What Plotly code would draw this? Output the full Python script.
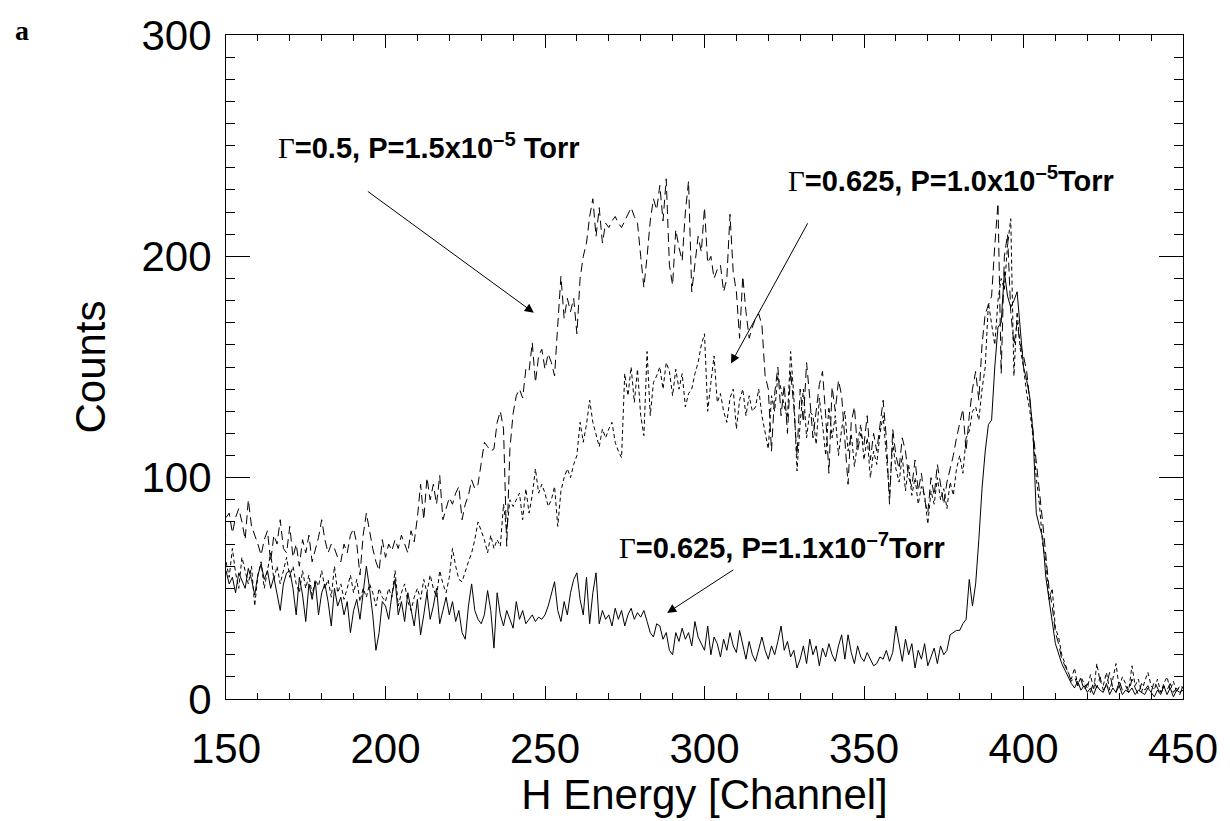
import plotly.graph_objects as go

start_channel = 150

solid_low_p = [
    58, 52, 55, 48, 57, 53, 50, 59, 54, 47,
    56, 61, 54, 58, 50, 55, 48, 40, 52, 57,
    58, 50, 38, 55, 47, 35, 52, 45, 53, 38,
    48, 52, 44, 33, 50, 42, 46, 38, 44, 30,
    40, 45, 36, 48, 60, 50, 38, 22, 30, 44,
    42, 36, 47, 54, 38, 44, 35, 48, 40, 33,
    45, 29, 38, 48, 36, 42, 50, 34, 40, 46,
    38, 44, 35, 40, 30, 27, 42, 52, 40, 36,
    34, 38, 49, 40, 23, 48, 38, 33, 40, 36,
    32, 44, 36, 40, 34, 36, 38, 35, 37, 36,
    38, 42, 47, 53, 40, 35, 44, 38, 48, 54,
    57, 45, 38, 55, 34, 48, 57, 34, 40, 36,
    38, 33, 41, 36, 40, 33, 38, 41, 36, 39,
    37, 40, 35, 30, 28, 34, 33, 27, 30, 22,
    20, 30, 26, 32, 27, 30, 24, 35, 28, 25,
    22, 33, 20, 28, 25, 19, 27, 22, 30, 24,
    21, 31, 24, 18, 26, 20, 17, 23, 28, 22,
    18, 24, 20, 26, 33, 22, 26, 19, 22, 14,
    18, 24, 16, 27, 20, 24, 15, 23, 19, 25,
    20, 17, 24, 29, 18, 29, 21, 16, 24, 19,
    17, 21, 18, 15, 16, 19, 18, 22, 17, 21,
    33, 24, 17, 27, 20, 25, 14, 22, 18, 25,
    15, 19, 23, 16, 24, 20, 22, 29, 30, 31,
    31, 34, 36, 54, 42, 52, 72, 95, 112, 124,
    126, 150, 168, 170, 193, 182, 177, 180, 184, 165,
    150, 144, 136, 120, 84, 78, 73, 55, 44, 35,
    25, 20, 16, 13, 10, 7, 5, 8, 4, 6,
    3, 5, 2, 6, 4, 3, 7, 2, 5, 3,
    6, 2, 4, 3, 5, 2, 4, 3, 2, 5,
    3, 1, 4, 2, 6, 2, 5, 1, 4, 3,
    4,
]

long_dash_g05 = [
    82, 84, 75, 82, 86, 80, 72, 90, 78, 74,
    70, 65, 72, 76, 62, 74, 70, 81, 68, 66,
    78, 64, 70, 60, 72, 66, 74, 62, 68, 73,
    81, 72, 66, 70, 68, 64, 62, 70, 66, 74,
    77, 70, 56, 74, 84, 76, 68, 62, 58, 72,
    64, 70, 67, 72, 68, 74, 70, 66, 76, 71,
    82, 97, 81, 100, 90, 97, 88, 101, 81, 86,
    91, 88, 93, 96, 81, 88, 92, 99, 95, 97,
    106, 116, 114, 112, 113, 125, 130, 122, 69, 113,
    129, 137, 140, 136, 149, 148, 161, 143, 155, 158,
    149, 156, 152, 146, 169, 191, 172, 181, 175, 181,
    165, 190, 200, 206, 218, 226, 209, 222, 206, 215,
    213, 216, 218, 215, 213, 216, 219, 222, 218, 215,
    200, 186, 200, 216, 226, 221, 232, 216, 235, 196,
    187, 212, 204, 198, 220, 234, 184, 196, 209, 202,
    222, 197, 200, 190, 194, 196, 184, 190, 219, 193,
    184, 163, 191, 175, 163, 168, 172, 174, 169, 146,
    140, 112, 138, 150, 128, 142, 120, 148, 132, 110,
    140, 125, 152, 136, 118, 130, 142, 148, 128, 102,
    141, 130, 144, 137, 118, 97, 125, 132, 112, 120,
    115, 128, 108, 120, 112, 125, 135, 118, 88, 122,
    110, 104, 118, 112, 100, 96, 108, 94, 102, 90,
    84, 100, 92, 106, 96, 88, 98, 104, 110, 118,
    124, 131, 112, 128, 140, 148, 135, 160, 174, 178,
    182, 205, 224, 147, 200, 210, 175, 160, 170, 160,
    155, 148, 135, 120, 108, 95, 80, 65, 50, 42,
    30, 25, 18, 15, 12, 8, 10, 6, 9, 4,
    7, 3, 8, 5, 10, 4, 6, 12, 5, 3,
    8, 4, 6, 3, 9, 5, 2, 7, 4, 6,
    3, 8, 5, 2, 6, 4, 7, 3, 5, 2,
    6,
]

short_dash_g0625 = [
    62, 55, 68, 57, 50, 64, 58, 52, 60, 42,
    56, 62, 50, 58, 66, 54, 60, 52, 58, 64,
    55, 60, 52, 48, 58, 50, 56, 47, 54, 51,
    58, 50, 54, 46, 60, 48, 52, 45, 50, 56,
    48, 54, 44, 50, 46, 52, 48, 42, 50, 46,
    44, 50, 46, 58, 42, 48, 52, 44, 40, 46,
    50, 45, 54, 48, 56, 50, 46, 58, 52, 48,
    55, 68, 60, 54, 53, 58, 62, 66, 72, 80,
    76, 72, 66, 74, 68, 72, 69, 88, 76, 90,
    87, 90, 93, 81, 95, 84, 92, 104, 93, 97,
    93, 87, 90, 96, 78, 94, 100, 104, 100, 106,
    110, 125, 116, 124, 135, 125, 119, 114, 122, 118,
    122, 125, 116, 112, 109, 147, 137, 150, 134, 149,
    128, 119, 157, 128, 143, 146, 150, 140, 152, 148,
    137, 149, 140, 147, 132, 138, 140, 147, 152, 160,
    165, 130, 143, 155, 134, 138, 130, 125, 136, 140,
    122, 135, 140, 128, 137, 130, 132, 140, 128, 121,
    113, 137, 130, 146, 140, 132, 127, 157, 137, 103,
    125, 140, 118, 130, 128, 115, 136, 124, 110, 132,
    118, 128, 110, 122, 130, 112, 120, 105, 116, 124,
    108, 118, 100, 112, 106, 120, 128, 110, 92, 116,
    104, 98, 110, 94, 106, 92, 100, 88, 96, 92,
    79, 94, 88, 100, 90, 95, 86, 98, 92, 104,
    110, 102, 118, 121, 130, 132, 126, 140, 150, 179,
    170, 160, 180, 190, 185, 205, 217, 146, 175, 158,
    150, 138, 130, 118, 100, 88, 70, 62, 45, 50,
    32, 28, 20, 16, 12, 9, 14, 6, 10, 7,
    5, 11, 4, 16, 8, 6, 12, 4, 9, 16,
    5, 10, 7, 4, 15, 6, 9, 3, 8, 12,
    6, 4, 9, 3, 7, 10, 4, 8, 3, 6,
    5,
]

x_tick_vals = [150, 200, 250, 300, 350, 400, 450]
y_tick_vals = [0, 100, 200, 300]

def channels(arr):
    return list(range(start_channel, start_channel + len(arr)))

SANS = "Liberation Sans, Arial, Helvetica, sans-serif"
SERIF = "Liberation Serif, Times New Roman, serif"

fig = go.Figure()
fig.add_trace(go.Scatter(x=channels(solid_low_p), y=solid_low_p, mode="lines",
                         line=dict(color="black", width=1), showlegend=False))
fig.add_trace(go.Scatter(x=channels(long_dash_g05), y=long_dash_g05, mode="lines",
                         line=dict(color="black", width=1, dash="9px,5px"), showlegend=False))
fig.add_trace(go.Scatter(x=channels(short_dash_g0625), y=short_dash_g0625, mode="lines",
                         line=dict(color="black", width=1, dash="4px,3px"), showlegend=False))

axis_common = dict(
    showgrid=False, zeroline=False, showline=True, linecolor="black", linewidth=1.2,
    mirror="ticks", ticks="inside", tickcolor="black", tickwidth=1,
    tickfont=dict(family=SANS, size=42, color="black"),
)
fig.update_xaxes(
    range=[150, 450], tickvals=x_tick_vals, ticklen=13,
    minor=dict(ticks="inside", dtick=10, ticklen=6, tickcolor="black", tickwidth=1),
    ticklabelstandoff=12,
    title=dict(text="H Energy [Channel]", font=dict(family=SANS, size=42, color="black"), standoff=8),
    **axis_common,
)
fig.update_yaxes(
    range=[0, 300], tickvals=y_tick_vals, ticklen=24,
    minor=dict(ticks="inside", dtick=10, ticklen=9, tickcolor="black", tickwidth=1),
    ticklabelstandoff=5,
    title=dict(text="Counts", font=dict(family=SANS, size=42, color="black"), standoff=22),
    **axis_common,
)

G = "<span style='font-family:Liberation Serif, Times New Roman, serif;font-weight:normal'>Γ</span>"
ann_font = dict(family=SANS, size=29, color="black", weight="bold")
labels = [
    (G + "=0.5, P=1.5x10<sup>–5</sup> Torr", 213.5, 250),
    (G + "=0.625, P=1.0x10<sup>–5</sup>Torr", 377.3, 235),
    (G + "=0.625, P=1.1x10<sup>–7</sup>Torr", 324.2, 69),
]
for text, x, y in labels:
    fig.add_annotation(x=x, y=y, xref="x", yref="y", text=text, showarrow=False,
                       xanchor="center", yanchor="middle", font=ann_font)

arrows = [
    (246.5, 174.5, 194.0, 229.8),
    (308.3, 151.6, 332.6, 215.6),
    (288.3, 38.9, 309.5, 58.8),
]
for hx, hy, tx, ty in arrows:
    fig.add_annotation(x=hx, y=hy, ax=tx, ay=ty, xref="x", yref="y", axref="x", ayref="y",
                       text="", showarrow=True, arrowhead=2, arrowsize=1.8, arrowwidth=1,
                       arrowcolor="black")

fig.add_annotation(xref="paper", yref="paper", x=(21 - 226) / 961, y=(703 - 19) / 679,
                   xanchor="center", yanchor="middle", text="<b>a</b>", showarrow=False,
                   font=dict(family=SERIF, size=28, color="black"))

fig.update_layout(
    width=1230, height=821,
    margin=dict(l=226, r=43, t=24, b=118),
    plot_bgcolor="white", paper_bgcolor="white",
)

fig.write_html("out.html")
